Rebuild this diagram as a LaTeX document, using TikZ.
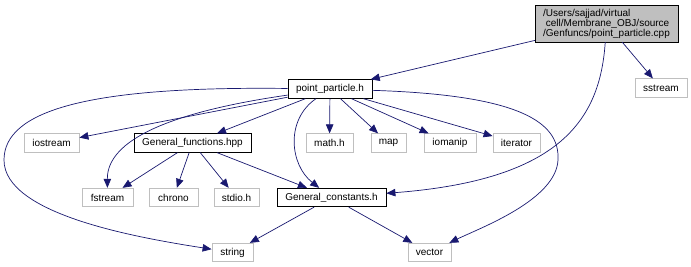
\documentclass[tikz,border=0pt]{standalone}
\usepackage{fontspec}
\setmainfont{Liberation Sans}
\usetikzlibrary{arrows.meta}

\definecolor{edgeblue}{HTML}{191970}
\definecolor{extgray}{HTML}{BFBFBF}

\begin{document}
\begin{tikzpicture}[
    x=1pt, y=-1pt,
    hdr/.style={rectangle, inner sep=0pt, minimum height=18.5pt, text centered,
      font=\fontsize{10}{10}\selectfont},
    srcfile/.style={hdr, draw=black, fill=extgray, minimum height=37pt, align=left},
    docfile/.style={hdr, draw=black, line width=0.8pt},
    sysfile/.style={hdr, draw=extgray, line width=0.8pt},
    dep/.style={draw=edgeblue, line width=0.7pt, -{Triangle[length=9pt,width=7.5pt]}},
]
    \useasboundingbox (0,0) rectangle (691,267);

    % the source file and its direct includes
    \node (root) [srcfile, minimum width=143pt] at (606.5,23.5)
      {/Users/sajjad/virtual\\\ cell/Membrane\_OBJ/source\\/Genfuncs/point\_particle.cpp};
    \node (pp) [docfile, minimum width=84pt] at (330,89) {point\_particle.h};
    \node (sstream) [sysfile, minimum width=52pt] at (661,88) {sstream};

    % second row
    \node (iostream) [sysfile, minimum width=55pt] at (51.5,143) {iostream};
    \node (genfunc) [docfile, minimum width=117pt] at (192.5,143) {General\_functions.hpp};
    \node (mathh) [sysfile, minimum width=47pt] at (329.5,143) {math.h};
    \node (map) [sysfile, minimum width=35pt] at (388.5,143) {map};
    \node (iomanip) [sysfile, minimum width=52pt] at (450,143) {iomanip};
    \node (iterator) [sysfile, minimum width=47pt] at (516.5,143) {iterator};

    % third row
    \node (fstream) [sysfile, minimum width=51pt] at (107.5,197.5) {fstream};
    \node (chrono) [sysfile, minimum width=49pt] at (173.5,197.5) {chrono};
    \node (stdio) [sysfile, minimum width=45pt] at (236.5,197.5) {stdio.h};
    \node (genconst) [docfile, minimum width=109pt] at (331.5,197.5) {General\_constants.h};

    % bottom row
    \node (string) [sysfile, minimum width=41pt] at (232.5,252.5) {string};
    \node (vector) [sysfile, minimum width=43pt] at (429.5,252.5) {vector};

    % bends of the two long curves
    \coordinate (loopL) at (4,160);
    \coordinate (loopR) at (558,160);

    \draw [dep] (root) -- (pp);
    \draw [dep] (root) -- (sstream);
    \draw [dep] (root) .. controls (600,120) and (560,180) .. (genconst);

    \draw [dep] (pp) -- (iostream);
    \draw [dep] (pp) .. controls (170,112) and (107,140) .. (fstream);
    \draw [dep] (pp) .. controls (90,86) and (4,110) .. (loopL)
      .. controls (4,215) and (140,238) .. (string);
    \draw [dep] (pp) -- (genfunc);
    \draw [dep] (pp) .. controls (285,120) and (290,165) .. (genconst);
    \draw [dep] (pp) -- (mathh);
    \draw [dep] (pp) -- (map);
    \draw [dep] (pp) -- (iomanip);
    \draw [dep] (pp) -- (iterator);
    \draw [dep] (pp) .. controls (520,95) and (560,122) .. (loopR)
      .. controls (556,200) and (480,228) .. (vector);

    \draw [dep] (genfunc) -- (fstream);
    \draw [dep] (genfunc) -- (chrono);
    \draw [dep] (genfunc) -- (stdio);
    \draw [dep] (genfunc) -- (genconst);

    \draw [dep] (genconst) -- (string);
    \draw [dep] (genconst) -- (vector);

\end{tikzpicture}
\end{document}
